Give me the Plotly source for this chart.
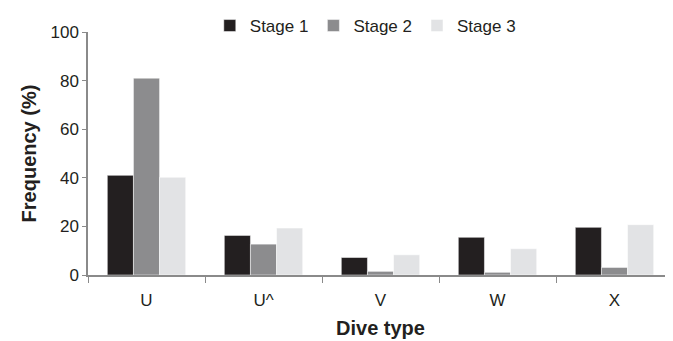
import plotly.graph_objects as go

categories = ["U", "U^", "V", "W", "X"]
stage1 = [41.0, 16.3, 7.2, 15.5, 19.6]
stage2 = [81.0, 12.7, 1.5, 1.1, 3.1]
stage3 = [40.2, 19.3, 8.3, 10.8, 20.7]
series_names = ["Stage 1", "Stage 2", "Stage 3"]
colors = ["#231f20", "#8c8c8e", "#e2e3e5"]

fig = go.Figure()
for name, vals, c in zip(series_names, [stage1, stage2, stage3], colors):
    fig.add_trace(go.Bar(x=categories, y=vals, name=name,
                         marker=dict(color=c, line=dict(color="white", width=0.5))))

font = "Liberation Sans, Arial, sans-serif"
# page body has an 8px default margin, so the figure is sized to fit the 673x341 window
fig.update_layout(
    width=665, height=333,
    margin=dict(l=80, r=0, t=24, b=66, autoexpand=False),
    plot_bgcolor="white", paper_bgcolor="white",
    barmode="group", bargap=0.33, bargroupgap=0,
    font=dict(family=font, size=17, color="#231f20"),
    showlegend=True,
    legend=dict(orientation="h", x=0.474, xanchor="center", y=1.0, yanchor="top",
                yref="container",
                font=dict(size=17), itemwidth=30, bgcolor="rgba(0,0,0,0)"),
    xaxis=dict(showline=True, linecolor="#8a8a8a", linewidth=1.5, automargin=False,
               ticks="outside", tickson="boundaries", ticklen=6, tickcolor="#8a8a8a",
               ticklabelstandoff=9,
               title=dict(text="<b>Dive type</b>", font=dict(size=20), standoff=12),
               tickfont=dict(size=17)),
    yaxis=dict(range=[0, 100], tickvals=[0, 20, 40, 60, 80, 100], automargin=False,
               showline=True, linecolor="#8a8a8a", linewidth=1.5,
               ticks="outside", ticklen=4, tickcolor="#8a8a8a",
               showgrid=False, zeroline=False,
               title=dict(text="<b>Frequency (%)</b>", font=dict(size=20), standoff=8),
               tickfont=dict(size=17)),
)
fig.write_html("out.html")
